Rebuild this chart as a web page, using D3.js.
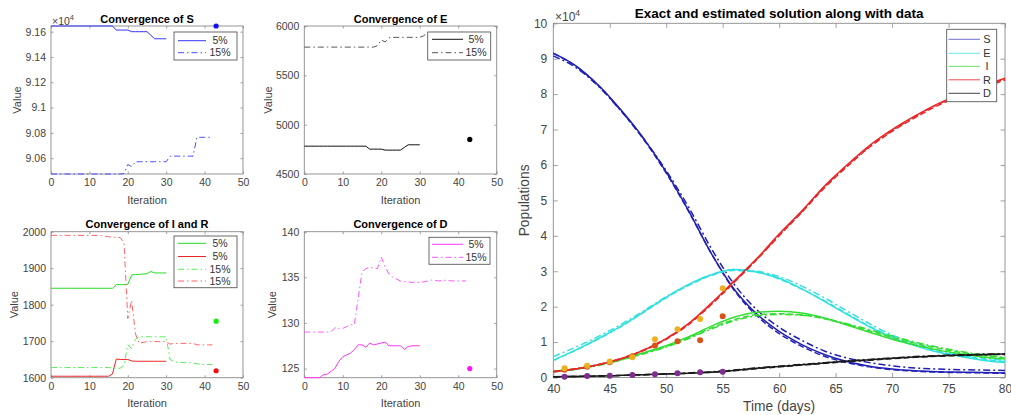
<!DOCTYPE html>
<html><head><meta charset="utf-8">
<script src="https://cdn.jsdelivr.net/npm/d3@7"></script>
<style>
body{margin:0;background:#fff}
svg{display:block}
text{font-family:"Liberation Sans",Arial,Helvetica,sans-serif}
</style>
</head><body>
<svg id="c" width="1011" height="415"></svg>
<script>
// ---------------- DATA ----------------
// Convergence of S (iteration index = position)
const S_5pct  = [91645,91645,91645,91645,91645,91645,91645,91645,91645,91645,91645,91645,91645,91645,91645,91645,91645,
                 91613,91613,91613,91613,91600,91600,91600,91600,91600,91572,91544,91544,91544,91544];
const S_15pct = [90475,90475,90475,90475,90475,90475,90475,90475,90475,90475,90475,90475,90475,90475,90475,90475,90475,90475,90475,
                 90478,90550,90534,90572,90572,90572,90572,90572,90572,90572,90572,90572,
                 90616,90616,90616,90616,90616,90616,90616,90765,90765,90765,90765,90765];
const S_true = 91645;
// Convergence of E
const E_5pct  = [4782,4782,4782,4782,4782,4782,4782,4782,4782,4782,4782,4782,4782,4782,4782,4782,4782,
                 4752,4752,4752,4752,4742,4742,4742,4742,4742,4770,4796,4796,4796,4796];
const E_15pct = [5786,5786,5786,5786,5786,5786,5786,5786,5786,5786,5786,5786,5786,5786,5786,5786,5786,5786,5786,
                 5800,5858,5838,5880,5885,5885,5885,5885,5885,5885,5885,5885,5900,5932,
                 5935,5935,5935,5935,5935,5935,5935,5935,5935,5935];
const E_true = 4850;
// Convergence of I and R
const I_5pct  = [1845,1845,1845,1845,1845,1845,1845,1845,1845,1845,1845,1845,1845,1845,1845,1845,1845,
                 1855,1855,1855,1856,1881,1883,1883,1884,1885,1891,1887,1887,1887,1887];
const R_5pct  = [1604,1604,1604,1604,1604,1604,1604,1604,1604,1604,1604,1604,1604,1604,1604,1604,
                 1610,1651,1650,1650,1650,1646,1645,1645,1645,1645,1645,1645,1645,1645,1645];
const I_15pct = [1628,1628,1628,1628,1628,1628,1628,1628,1628,1628,1628,1628,1628,1628,1628,1628,
                 1626,1626,1626,1634,1690,1680,1705,1713,1712,1712,1712,1712,1712,1712,1712,
                 1650,1644,1642,1642,1641,1641,1640,1638,1637,1636,1636,1636];
const R_15pct = [1990,1990,1990,1990,1990,1990,1990,1990,1990,1990,1990,1990,1990,
                 1989,1988,1986,1985,1985,1984,1970,1762,1812,1720,1694,1697,
                 1699,1699,1699,1699,1699,1699,1692,1694,1694,1694,1694,1694,1694,1690,1690,1690,1690,1690];
const I_true = 1755, R_true = 1619;
// Convergence of D
const D_5pct  = [124.0,124.0,124.0,124.0,124.0,124.35,124.4,124.7,125.07,125.8,126.3,126.5,126.7,127.07,127.6,127.6,
                 127.35,127.8,127.6,127.7,127.8,127.9,127.5,127.5,127.5,127.5,127.1,127.4,127.5,127.5,127.5];
const D_15pct = [129.0,129.0,129.0,129.0,129.0,129.0,129.0,129.05,129.5,129.35,129.4,129.6,129.8,129.8,132.7,135.6,
                 135.95,136.1,136.0,135.95,137.2,136.15,135.35,135.0,134.8,134.6,134.55,134.5,134.45,134.45,134.45,
                 134.5,134.6,134.7,134.65,134.6,134.65,134.7,134.62,134.6,134.6,134.6,134.6];
const D_true = 125;
const trueIter = 43;

// Main plot (populations in units of 10^4)
const days  = [40,42,44,46,48,50,52,54,56,58,60,62,64,66,68,70,72,74,76,78,80];
const S_ex  = [9.16,8.8,8.25,7.55,6.75,5.8,4.7,3.5,2.5,1.8,1.3,0.93,0.65,0.45,0.32,0.24,0.19,0.16,0.15,0.14,0.13];
const S_e5  = [9.15,8.79,8.24,7.53,6.72,5.77,4.68,3.5,2.47,1.75,1.24,0.88,0.6,0.42,0.3,0.22,0.18,0.15,0.14,0.13,0.12];
const S_e15 = [9.08,8.75,8.22,7.52,6.74,5.84,4.8,3.64,2.64,1.92,1.42,1.05,0.75,0.55,0.42,0.33,0.27,0.24,0.22,0.21,0.2];
const E_ex  = [0.49,0.78,1.1,1.45,1.85,2.27,2.63,2.9,3.05,2.98,2.8,2.5,2.15,1.78,1.43,1.12,0.9,0.72,0.6,0.49,0.42];
const E_e5  = [0.48,0.77,1.09,1.44,1.84,2.25,2.6,2.88,3.02,2.97,2.78,2.5,2.17,1.8,1.45,1.15,0.92,0.74,0.62,0.52,0.45];
const E_e15 = [0.59,0.86,1.16,1.5,1.88,2.28,2.62,2.9,3.05,3.0,2.85,2.58,2.25,1.88,1.52,1.2,0.96,0.78,0.65,0.55,0.48];
const I_ex  = [0.18,0.24,0.36,0.51,0.7,0.9,1.15,1.45,1.7,1.84,1.87,1.82,1.68,1.48,1.28,1.08,0.92,0.78,0.67,0.58,0.52];
const I_e5  = [0.18,0.24,0.35,0.5,0.68,0.88,1.12,1.4,1.63,1.77,1.8,1.77,1.66,1.5,1.32,1.13,0.97,0.83,0.71,0.62,0.55];
const I_e15 = [0.16,0.23,0.34,0.49,0.67,0.86,1.1,1.37,1.6,1.74,1.78,1.76,1.67,1.52,1.35,1.17,1.0,0.86,0.74,0.64,0.57];
const R_ex  = [0.16,0.24,0.36,0.53,0.77,1.1,1.53,2.1,2.72,3.35,4.05,4.7,5.4,6.0,6.55,7.0,7.38,7.72,8.0,8.23,8.45];
const R_e5  = [0.16,0.24,0.36,0.53,0.76,1.08,1.5,2.06,2.68,3.32,4.0,4.66,5.35,5.95,6.5,6.95,7.33,7.67,7.95,8.18,8.4];
const R_e15 = [0.17,0.25,0.37,0.54,0.78,1.1,1.52,2.08,2.7,3.33,4.02,4.68,5.38,5.98,6.52,6.97,7.36,7.7,7.98,8.21,8.43];
const D_ex  = [0.02,0.03,0.04,0.06,0.08,0.1,0.12,0.15,0.2,0.26,0.31,0.36,0.41,0.46,0.5,0.54,0.58,0.61,0.63,0.65,0.66];
const D_e5  = [0.02,0.03,0.04,0.06,0.08,0.1,0.12,0.15,0.19,0.25,0.3,0.35,0.4,0.45,0.49,0.53,0.57,0.6,0.62,0.64,0.65];
const D_e15 = [0.02,0.03,0.04,0.06,0.08,0.1,0.13,0.16,0.21,0.27,0.32,0.37,0.42,0.47,0.51,0.55,0.59,0.62,0.64,0.66,0.67];
// observed data
const obsDays = [41,43,45,47,49,51,53,55];
const obsR = [0.26,0.33,0.45,0.57,1.08,1.36,1.65,2.52];
const obsI = [0.22,0.3,0.43,0.6,0.9,1.02,1.05,1.73];
const obsD = [0.02,0.04,0.05,0.07,0.09,0.12,0.15,0.16];

// tick labels
const iterTicks = [0,10,20,30,40,50];
const sTicks = [90600,90800,91000,91200,91400,91600];
const eTicks = [4500,5000,5500,6000];
const irTicks = [1600,1700,1800,1900,2000];
const dTicks = [125,130,135,140];
const dayTicks = [40,45,50,55,60,65,70,75,80];
const popTicks = [0,1,2,3,4,5,6,7,8,9,10];
const legendPct = ["5%","15%"];
const legendMain = ["S","E","I","R","D"];

// ---------------- DRAWING ----------------
const svg = d3.select('#c');
const AXC = '#8a8a8a', TXC = '#444';
const DASHDOT = '6,3,1.5,3';

function makeAxes(o){
  const g = svg.append('g');
  const x = d3.scaleLinear().domain(o.xd).range([o.l,o.r]);
  const y = d3.scaleLinear().domain(o.yd).range([o.b,o.t]);
  const tl = o.tick;
  g.append('g').attr('transform',`translate(0,${o.b})`)
    .call(d3.axisBottom(x).tickValues(o.xt).tickSizeInner(-tl).tickSizeOuter(0).tickPadding(o.xpad).tickFormat(d3.format('d')));
  g.append('g').attr('transform',`translate(0,${o.t})`)
    .call(d3.axisTop(x).tickValues(o.xt).tickSizeInner(-tl).tickSizeOuter(0).tickFormat(''));
  g.append('g').attr('transform',`translate(${o.l},0)`)
    .call(d3.axisLeft(y).tickValues(o.yt).tickSizeInner(-tl).tickSizeOuter(0).tickPadding(o.ypad).tickFormat(o.yf));
  g.append('g').attr('transform',`translate(${o.r},0)`)
    .call(d3.axisRight(y).tickValues(o.yt).tickSizeInner(-tl).tickSizeOuter(0).tickFormat(''));
  g.selectAll('.domain').remove();
  g.selectAll('.tick line').attr('stroke',AXC).attr('stroke-width',0.8);
  g.selectAll('.tick text').attr('fill',TXC).attr('font-size',o.fs).attr('font-family','"Liberation Sans",Arial,sans-serif');
  g.append('rect').attr('x',o.l).attr('y',o.t).attr('width',o.r-o.l).attr('height',o.b-o.t)
    .attr('fill','none').attr('stroke',AXC).attr('stroke-width',0.9);
  svg.append('text').attr('x',(o.l+o.r)/2).attr('y',o.titleY).attr('text-anchor','middle')
    .attr('font-weight','bold').attr('font-size',o.tfs).attr('fill','#000').text(o.title);
  svg.append('text').attr('x',(o.l+o.r)/2).attr('y',o.xlabY).attr('text-anchor','middle')
    .attr('font-size',o.lfs).attr('fill',TXC).text(o.xlab);
  svg.append('text').attr('transform',`translate(${o.ylabX},${(o.t+o.b)/2}) rotate(-90)`)
    .attr('text-anchor','middle').attr('dy','0.35em').attr('font-size',o.lfs).attr('fill',TXC).text(o.ylab);
  if(o.expo){
    const t = svg.append('text').attr('x',o.expo[0]).attr('y',o.expo[1]).attr('font-size',o.fs).attr('fill',TXC);
    t.append('tspan').text('\u00d710');
    t.append('tspan').attr('dy',-o.fs*0.4).attr('font-size',o.fs*0.72).text('4');
  }
  return {g,x,y};
}

function drawSeries(ax, arr, color, dash, w){
  const line = d3.line().x((d,i)=>ax.x(i)).y(d=>ax.y(d));
  svg.append('path').datum(arr).attr('d',line).attr('fill','none')
    .attr('stroke',color).attr('stroke-width',w||1).attr('stroke-dasharray',dash||null);
}
function drawDot(ax, xv, yv, color, r){
  svg.append('circle').attr('cx',ax.x(xv)).attr('cy',ax.y(yv)).attr('r',r||2.6).attr('fill',color);
}
function legend(box, entries, l0, l1, tx, rows, fs){
  svg.append('rect').attr('x',box[0]).attr('y',box[1]).attr('width',box[2]).attr('height',box[3])
    .attr('fill','#fff').attr('stroke','#5a5a5a').attr('stroke-width',0.9);
  entries.forEach((e,i)=>{
    svg.append('line').attr('x1',l0).attr('x2',l1).attr('y1',rows[i]).attr('y2',rows[i])
      .attr('stroke',e.color).attr('stroke-width',e.w||1).attr('stroke-dasharray',e.dash||null);
    svg.append('text').attr('x',tx).attr('y',rows[i]).attr('dy','0.36em').attr('text-anchor','middle')
      .attr('font-size',fs).attr('fill','#333').text(e.label);
  });
}

const small = {tick:2.5, fs:10.5, lfs:11, tfs:11, xpad:5, ypad:5};

// --- Convergence of S
const axS = makeAxes(Object.assign({}, small, {l:51,r:243,t:26,b:174, xd:[0,50], yd:[90475,91645],
  xt:iterTicks, yt:sTicks, yf:v=>d3.format('')(+(v/1e4).toFixed(2)),
  title:'Convergence of S', titleY:22.5, xlab:'Iteration', xlabY:204, ylab:'Value', ylabX:17, expo:[52,24.5]}));
drawSeries(axS, S_5pct, '#3434ff');
drawSeries(axS, S_15pct, '#4a4aff', DASHDOT);
drawDot(axS, trueIter, S_true, '#1010ee');
legend([174,32,63,28],[{label:legendPct[0],color:'#3434ff'},{label:legendPct[1],color:'#4a4aff',dash:DASHDOT}],178,206,220,[40.7,52.7],10.5);

// --- Convergence of E
const axE = makeAxes(Object.assign({}, small, {l:304.3,r:496.7,t:26,b:174, xd:[0,50], yd:[4500,6000],
  xt:iterTicks, yt:eTicks, yf:d3.format('d'),
  title:'Convergence of E', titleY:22.5, xlab:'Iteration', xlabY:204, ylab:'Value', ylabX:268.5}));
drawSeries(axE, E_5pct, '#111');
drawSeries(axE, E_15pct, '#555', DASHDOT);
drawDot(axE, trueIter, E_true, '#000');
legend([427.7,32,63,28],[{label:legendPct[0],color:'#111'},{label:legendPct[1],color:'#555',dash:DASHDOT}],432,463,476,[39.3,52.7],10.5);

// --- Convergence of I and R
const axIR = makeAxes(Object.assign({}, small, {l:51,r:243,t:231.7,b:377.7, xd:[0,50], yd:[1600,2000],
  xt:iterTicks, yt:irTicks, yf:d3.format('d'),
  title:'Convergence of I and R', titleY:228, xlab:'Iteration', xlabY:407, ylab:'Value', ylabX:14.5}));
drawSeries(axIR, I_5pct, '#22dd22');
drawSeries(axIR, R_5pct, '#ee2424');
drawSeries(axIR, I_15pct, '#55ee55', DASHDOT);
drawSeries(axIR, R_15pct, '#ff6464', DASHDOT);
drawDot(axIR, trueIter, I_true, '#11ee11');
drawDot(axIR, trueIter, R_true, '#ee1111');
legend([174,236,63,51.7],[
  {label:legendPct[0],color:'#22dd22'},{label:legendPct[0],color:'#ee2424'},
  {label:legendPct[1],color:'#55ee55',dash:DASHDOT},{label:legendPct[1],color:'#ff6464',dash:DASHDOT}],
  178,206,220,[243.3,256.5,269.3,281],10.5);

// --- Convergence of D
const axD = makeAxes(Object.assign({}, small, {l:304.3,r:496.7,t:231.7,b:377.7, xd:[0,50], yd:[124,140],
  xt:iterTicks, yt:dTicks, yf:d3.format('d'),
  title:'Convergence of D', titleY:228, xlab:'Iteration', xlabY:407, ylab:'Value', ylabX:272}));
drawSeries(axD, D_5pct, '#ff33ff');
drawSeries(axD, D_15pct, '#ff55ff', DASHDOT);
drawDot(axD, trueIter, D_true, '#ff11ff');
legend([429,237.3,61,27],[{label:legendPct[0],color:'#ff33ff'},{label:legendPct[1],color:'#ff55ff',dash:DASHDOT}],432,463,476,[244.3,257.3],10.5);

// --- Main plot
const axM = makeAxes({l:553.3,r:1005,t:23.3,b:377.5, xd:[40,80], yd:[0,10], tick:4.5, fs:12, lfs:13.75, tfs:13.5,
  xpad:7, ypad:6, xt:dayTicks, yt:popTicks, yf:d3.format('d'),
  title:'Exact and estimated solution along with data', titleY:18, xlab:'Time (days)', xlabY:411,
  ylab:'Populations', ylabX:524, expo:[555,21]});
const mline = d3.line().x((d,i)=>axM.x(days[i])).y(d=>axM.y(d)).curve(d3.curveMonotoneX);
const comps = [
  {ex:S_ex,e5:S_e5,e15:S_e15,c:'#2020b4'},
  {ex:E_ex,e5:E_e5,e15:E_e15,c:'#33e0e0'},
  {ex:I_ex,e5:I_e5,e15:I_e15,c:'#33dd33'},
  {ex:R_ex,e5:R_e5,e15:R_e15,c:'#e82828'},
  {ex:D_ex,e5:D_e5,e15:D_e15,c:'#1a1a1a'}
];
comps.forEach(cp=>{
  [[cp.ex,null],[cp.e5,'6,3'],[cp.e15,'7,3,2,3']].forEach(([arr,dash])=>{
    svg.append('path').datum(arr).attr('d',mline).attr('fill','none')
      .attr('stroke',cp.c).attr('stroke-width',1.5).attr('stroke-dasharray',dash);
  });
});
function obs(arr,color){
  svg.append('g').selectAll('circle').data(arr).join('circle')
    .attr('cx',(d,i)=>axM.x(obsDays[i])).attr('cy',d=>axM.y(d)).attr('r',3).attr('fill',color);
}
obs(obsI,'#D95319');
obs(obsR,'#EDB120');
obs(obsD,'#7E2F8E');
legend([946.7,29.3,50,72.4],[
  {label:legendMain[0],color:'#7070d0'},{label:legendMain[1],color:'#66e8e8'},
  {label:legendMain[2],color:'#66e066'},{label:legendMain[3],color:'#ee4a4a'},{label:legendMain[4],color:'#444'}],
  948.5,980,987,[39.3,53.3,66.3,79.8,93.3],11);
</script>
</body></html>
